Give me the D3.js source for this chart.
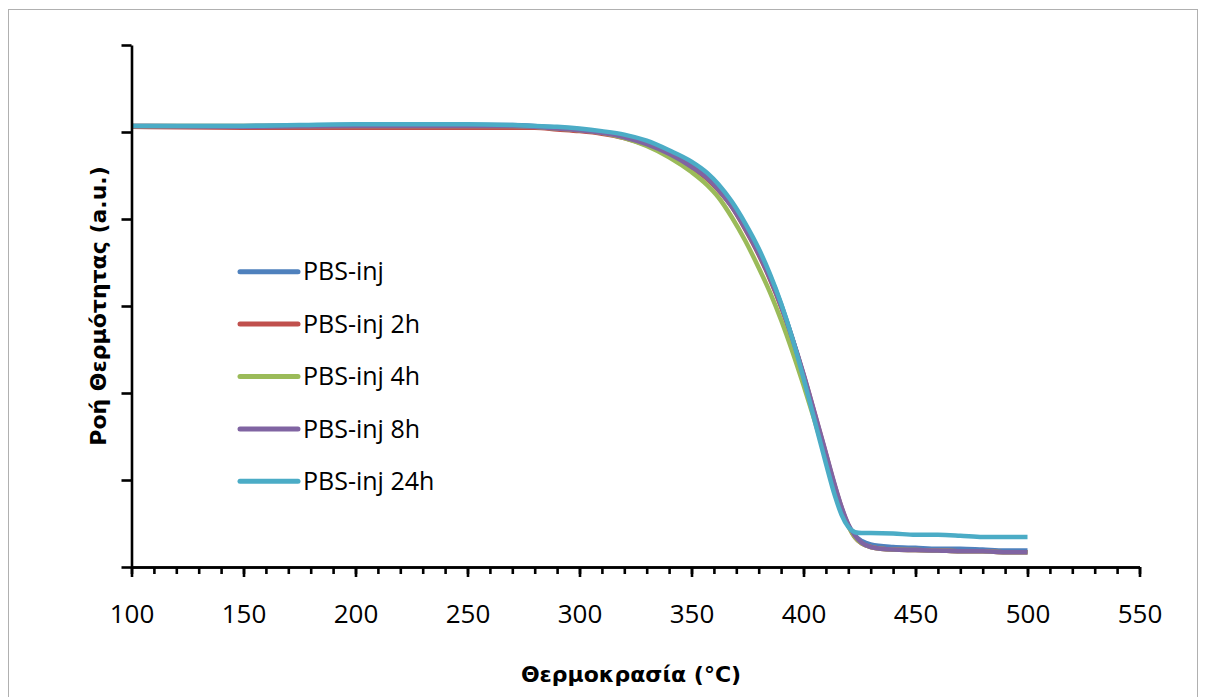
<!DOCTYPE html>
<html>
<head>
<meta charset="utf-8">
<script src="https://cdn.jsdelivr.net/npm/d3@7"></script>
<style>
  html, body { margin: 0; padding: 0; background: #ffffff; }
  svg { display: block; }
</style>
</head>
<body>
<svg id="chart" width="1206" height="697"></svg>
<script>
// ---------------- DATA ----------------
const temperature = [100,150,200,250,270,280,290,300,310,320,330,340,350,357,362,368,374,380,385,390,395,400,405,410,414,417,420,423,426,430,440,450,460,470,480,490,500];

const seriesNames = ["PBS-inj", "PBS-inj 2h", "PBS-inj 4h", "PBS-inj 8h", "PBS-inj 24h"];
const seriesColors = ["#4F81BD", "#C0504D", "#9BBB59", "#8064A2", "#4BACC6"];

const pbsInj    = [5.07,5.07,5.08,5.08,5.08,5.07,5.05,5.03,5.00,4.95,4.88,4.77,4.63,4.50,4.37,4.17,3.92,3.63,3.35,3.02,2.63,2.20,1.73,1.25,0.88,0.65,0.48,0.36,0.30,0.26,0.23,0.22,0.21,0.21,0.20,0.19,0.19];
const pbsInj2h  = [5.06,5.05,5.05,5.05,5.05,5.05,5.03,5.01,4.98,4.93,4.85,4.74,4.59,4.46,4.33,4.14,3.88,3.59,3.31,2.99,2.62,2.21,1.76,1.30,0.93,0.68,0.48,0.34,0.27,0.23,0.20,0.195,0.19,0.18,0.18,0.17,0.17];
const pbsInj4h  = [5.07,5.07,5.07,5.07,5.07,5.06,5.04,5.02,4.99,4.93,4.84,4.71,4.54,4.39,4.25,4.02,3.75,3.44,3.16,2.84,2.48,2.09,1.68,1.25,0.89,0.66,0.47,0.34,0.27,0.23,0.20,0.195,0.19,0.18,0.18,0.17,0.17];
const pbsInj8h  = [5.07,5.06,5.07,5.07,5.07,5.06,5.04,5.02,4.99,4.94,4.86,4.75,4.60,4.47,4.34,4.14,3.89,3.60,3.32,3.00,2.63,2.22,1.77,1.31,0.94,0.69,0.49,0.36,0.28,0.23,0.20,0.195,0.19,0.18,0.18,0.17,0.17];
const pbsInj24h = [5.07,5.07,5.09,5.09,5.08,5.07,5.06,5.04,5.01,4.97,4.90,4.79,4.66,4.53,4.40,4.20,3.95,3.66,3.37,3.03,2.63,2.17,1.68,1.19,0.82,0.60,0.46,0.40,0.39,0.39,0.385,0.37,0.37,0.36,0.345,0.345,0.345];

const xMajorTicks = [100,150,200,250,300,350,400,450,500,550];
const xMinorTicks = d3.range(100, 551, 10);
const yTicks = [0,1,2,3,4,5,6];

const xTitle = "Θερμοκρασία (°C)";
const yTitle = "Ροή Θερμότητας (a.u.)";

// ---------------- CHART ----------------
const svg = d3.select("#chart");

// outer frame
svg.append("rect")
  .attr("x", 8.5).attr("y", 9.5)
  .attr("width", 1189).attr("height", 700)
  .attr("fill", "none").attr("stroke", "#b0b0b0").attr("stroke-width", 1);

const x = d3.scaleLinear().domain([100, 550]).range([131.5, 1139.5]);
const y = d3.scaleLinear().domain([0, 6]).range([567, 45]);

const seriesValues = [pbsInj, pbsInj2h, pbsInj4h, pbsInj8h, pbsInj24h];

const line = d3.line()
  .x(d => x(d[0]))
  .y(d => y(d[1]))
  .curve(d3.curveMonotoneX);

seriesValues.forEach((vals, i) => {
  svg.append("path")
    .datum(temperature.map((t, k) => [t, vals[k]]))
    .attr("fill", "none")
    .attr("stroke", seriesColors[i])
    .attr("stroke-width", 4.5)
    .attr("stroke-linejoin", "round")
    .attr("stroke-linecap", "butt")
    .attr("d", line);
});

// x axis - minor ticks
const gxMinor = svg.append("g")
  .attr("transform", `translate(0,${y(0)})`)
  .call(d3.axisBottom(x).tickValues(xMinorTicks).tickSize(7).tickSizeOuter(0).tickFormat(""));
// x axis - major ticks with labels
const gx = svg.append("g")
  .attr("transform", `translate(0,${y(0)})`)
  .call(d3.axisBottom(x).tickValues(xMajorTicks).tickSize(10).tickSizeOuter(0).tickPadding(28).tickFormat(d3.format("d")));

// y axis
const gy = svg.append("g")
  .attr("transform", `translate(${x(100)},0)`)
  .call(d3.axisLeft(y).tickValues(yTicks).tickSize(10).tickSizeOuter(0).tickFormat(""));

[gxMinor, gx, gy].forEach(g => {
  g.select(".domain").attr("stroke", "#000").attr("stroke-width", 2.6);
  g.selectAll(".tick line").attr("stroke", "#000").attr("stroke-width", 2.6);
});
gx.selectAll(".tick text")
  .attr("fill", "#000")
  .style("font-family", "'Open Sans', 'Liberation Sans', sans-serif")
  .style("font-size", "26px");

// axis titles
svg.append("text")
  .attr("x", 631).attr("y", 682)
  .attr("text-anchor", "middle")
  .style("font-family", "'DejaVu Sans', 'Open Sans', sans-serif")
  .style("font-weight", "bold")
  .style("font-size", "22px")
  .attr("fill", "#000")
  .text(xTitle);

svg.append("text")
  .attr("transform", "translate(106,306) rotate(-90)")
  .attr("text-anchor", "middle")
  .style("font-family", "'DejaVu Sans', 'Open Sans', sans-serif")
  .style("font-weight", "bold")
  .style("font-size", "22px")
  .attr("fill", "#000")
  .text(yTitle);

// legend
const legend = svg.append("g").attr("transform", "translate(240,271.7)");
seriesNames.forEach((name, i) => {
  const row = legend.append("g").attr("transform", `translate(0,${i * 52.4})`);
  row.append("line")
    .attr("x1", 0).attr("x2", 58).attr("y1", 0).attr("y2", 0)
    .attr("stroke", seriesColors[i]).attr("stroke-width", 5).attr("stroke-linecap", "round");
  row.append("text")
    .attr("x", 63).attr("y", 0).attr("dy", "0.35em")
    .style("font-family", "'Open Sans', 'Liberation Sans', sans-serif")
    .style("font-size", "25px")
    .attr("fill", "#000")
    .text(name);
});
</script>
</body>
</html>
